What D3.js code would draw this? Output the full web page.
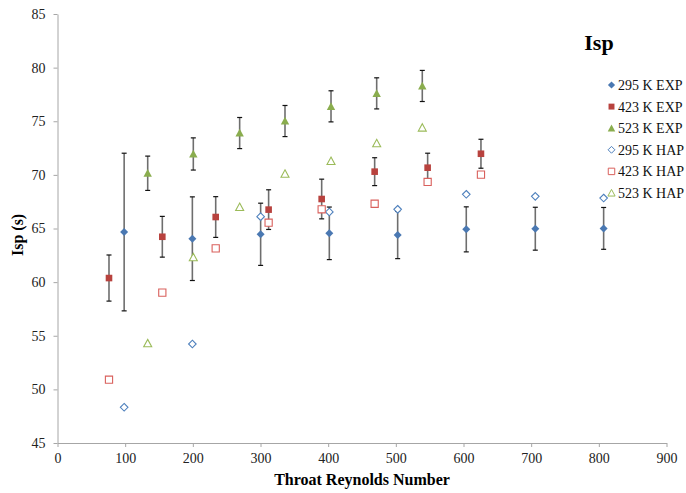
<!DOCTYPE html>
<html>
<head>
<meta charset="utf-8">
<script src="https://cdn.jsdelivr.net/npm/d3@7"></script>
<style>
  body { margin: 0; background: #fff; }
  text { font-family: "Liberation Serif", "Times New Roman", serif; }
</style>
</head>
<body>
<script>
// Throat Reynolds number (x) and Isp (y)
const re295 = [98.5, 199.3, 300.2, 401.7, 502.7, 604.1, 706.1, 807.1]
const re423 = [76.1, 154.9, 233.8, 312, 390.4, 468.7, 547, 625.8]
const re523 = [133.3, 200.7, 269.2, 336.2, 404.2, 471.7, 539.1]

const exp295 = [64.67, 64.05, 64.46, 64.55, 64.39, 64.92, 64.98, 65.01]
const err295 = [7.35, 3.9, 2.9, 2.45, 2.2, 2.1, 2.0, 1.95]
const exp423 = [60.38, 64.23, 66.07, 66.76, 67.75, 70.3, 70.67, 71.97]
const err423 = [2.15, 1.9, 1.9, 1.85, 1.85, 1.3, 1.35, 1.35]
const exp523 = [70.15, 71.95, 73.9, 75.02, 76.39, 77.6, 78.29]
const err523 = [1.6, 1.5, 1.45, 1.45, 1.45, 1.45, 1.45]

const hap295 = [48.33, 54.23, 66.1, 66.54, 66.79, 68.19, 68.0, 67.84]
const hap423 = [50.9, 59.02, 63.15, 65.54, 66.79, 67.31, 69.34, 70.02]
const hap523 = [54.29, 62.31, 67.0, 70.1, 71.29, 72.94, 74.4]

const xTicks = [0, 100, 200, 300, 400, 500, 600, 700, 800, 900]
const yTicks = [45, 50, 55, 60, 65, 70, 75, 80, 85]

const w = 686
const h = 493

const svg = d3.select('body').append('svg')
  .attr('width', w)
  .attr('height', h)

const x = d3.scaleLinear().domain([0, 900]).range([57.5, 666.5])
const y = d3.scaleLinear().domain([45, 85]).range([443, 14])

// marker shapes (centre + half size)
function diamond(cx, cy, r) {
  return `M${cx},${cy - r}L${cx + r},${cy}L${cx},${cy + r}L${cx - r},${cy}Z`
}
function square(cx, cy, r) {
  return `M${cx - r},${cy - r}h${2 * r}v${2 * r}h${-2 * r}Z`
}
function triangle(cx, cy, r) {
  return `M${cx},${cy - r}L${cx + r},${cy + r * 0.85}L${cx - r},${cy + r * 0.85}Z`
}

const series = [
  { name: '295 K EXP', xs: re295, ys: exp295, err: err295, shape: diamond, r: 4, fill: '#4A78B2', stroke: 'none' },
  { name: '423 K EXP', xs: re423, ys: exp423, err: err423, shape: square, r: 3.3, fill: '#B8423E', stroke: 'none' },
  { name: '523 K EXP', xs: re523, ys: exp523, err: err523, shape: triangle, r: 4.2, fill: '#8AAD4E', stroke: 'none' },
  { name: '295 K HAP', xs: re295, ys: hap295, err: null, shape: diamond, r: 3.8, fill: '#fff', stroke: '#4F81BD' },
  { name: '423 K HAP', xs: re423, ys: hap423, err: null, shape: square, r: 3.6, fill: '#fff', stroke: '#D9605C' },
  { name: '523 K HAP', xs: re523, ys: hap523, err: null, shape: triangle, r: 4, fill: '#fff', stroke: '#9BBB59' }
]

// axes
svg.append('g')
  .attr('transform', `translate(0,${y(45)})`)
  .call(d3.axisBottom(x).tickValues(xTicks).tickSize(4).tickPadding(6).tickSizeOuter(0))
svg.append('g')
  .attr('transform', `translate(${x(0)},0)`)
  .call(d3.axisLeft(y).tickValues(yTicks).tickSize(4).tickPadding(8).tickSizeOuter(0))

svg.selectAll('g').attr('font-family', '"Liberation Serif", serif').attr('font-size', 14)
svg.selectAll('.domain, .tick line').attr('stroke', '#a6a6a6').attr('stroke-width', 1)
svg.selectAll('.tick text')
  .attr('fill', '#222')
  .style('font-family', '"Liberation Serif", serif')
  .style('font-size', '14px')

// error bars
series.filter(s => s.err).forEach(s => {
  const g = svg.append('g')
  s.xs.forEach((v, i) => {
    const cx = x(v)
    const top = y(s.ys[i] + s.err[i])
    const bot = y(s.ys[i] - s.err[i])
    g.append('line').attr('x1', cx).attr('x2', cx).attr('y1', top).attr('y2', bot)
      .attr('stroke', '#6e6e6e').attr('stroke-width', 1.6)
    g.append('line').attr('x1', cx - 2.5).attr('x2', cx + 2.5).attr('y1', top).attr('y2', top)
      .attr('stroke', '#111').attr('stroke-width', 1.2)
    g.append('line').attr('x1', cx - 2.5).attr('x2', cx + 2.5).attr('y1', bot).attr('y2', bot)
      .attr('stroke', '#111').attr('stroke-width', 1.2)
  })
})

// markers
series.forEach(s => {
  svg.append('g').selectAll('path')
    .data(s.xs.map((v, i) => [v, s.ys[i]]))
    .enter()
    .append('path')
    .attr('d', d => s.shape(x(d[0]), y(d[1]), s.r))
    .attr('fill', s.fill)
    .attr('stroke', s.stroke)
    .attr('stroke-width', 1.1)
})

// titles
svg.append('text')
  .attr('x', 599)
  .attr('y', 50)
  .attr('text-anchor', 'middle')
  .style('font-size', '22px')
  .style('font-weight', 'bold')
  .text('Isp')

svg.append('text')
  .attr('x', x(450))
  .attr('y', 485)
  .attr('text-anchor', 'middle')
  .style('font-size', '16px')
  .style('font-weight', 'bold')
  .text('Throat Reynolds Number')

svg.append('text')
  .attr('transform', `translate(23,${y(64.4)}) rotate(-90)`)
  .attr('text-anchor', 'middle')
  .style('font-size', '16px')
  .style('font-weight', 'bold')
  .text('Isp (s)')

// legend
const legend = svg.append('g')
series.forEach((s, i) => {
  const ly = 85 + i * 21.6
  legend.append('path')
    .attr('d', s.shape(611.5, ly, s.r * 0.9))
    .attr('fill', s.fill)
    .attr('stroke', s.stroke)
    .attr('stroke-width', 1)
  legend.append('text')
    .attr('x', 618)
    .attr('y', ly + 5)
    .style('font-size', '14px')
    .attr('fill', '#111')
    .text(s.name)
})
</script>
</body>
</html>
